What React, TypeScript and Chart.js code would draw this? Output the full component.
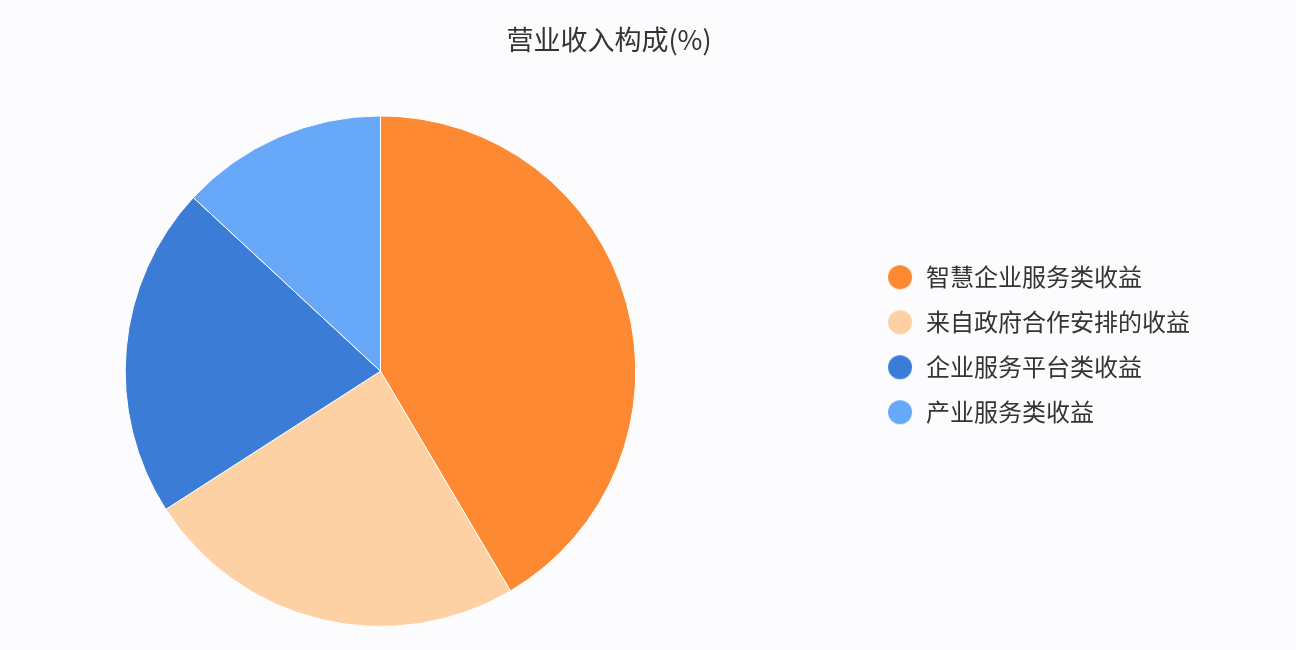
import { useEffect, useRef } from 'react';
import { Chart, registerables } from 'chart.js';

Chart.register(...registerables);

const labels = ['智慧企业服务类收益', '来自政府合作安排的收益', '企业服务平台类收益', '产业服务类收益'];
const shares = [41.5, 24.4, 21.0, 13.1];
const colors = ['#fd8a32', '#fdd1a4', '#3b7dd6', '#67a9f8'];

const FONT = '"Noto Sans CJK SC", "Noto Sans", sans-serif';
const MARKER_W = 150;

// legend marker: a dot sitting at the right end of a wide transparent strip
function makeMarker(color: string) {
  const c = document.createElement('canvas');
  c.width = MARKER_W;
  c.height = 26;
  const ctx = c.getContext('2d')!;
  ctx.fillStyle = color;
  ctx.beginPath();
  ctx.arc(MARKER_W - 14, 13, 12, 0, Math.PI * 2);
  ctx.fill();
  return c;
}

export default function App() {
  const canvasRef = useRef<HTMLCanvasElement>(null);
  const chartRef = useRef<Chart | null>(null);

  useEffect(() => {
    if (!canvasRef.current) return;
    chartRef.current?.destroy();

    const markers = colors.map(makeMarker);
    const baseLabels = (Chart.overrides as any).doughnut.plugins.legend.labels.generateLabels;

    chartRef.current = new Chart(canvasRef.current, {
      type: 'pie',
      data: {
        labels,
        datasets: [
          {
            data: shares,
            backgroundColor: colors,
            borderColor: '#ffffff',
            borderWidth: 1,
          },
        ],
      },
      options: {
        responsive: true,
        maintainAspectRatio: false,
        animation: false,
        layout: { padding: { left: 18, right: 96, top: 0, bottom: 23 } },
        plugins: {
          title: {
            display: true,
            text: '营业收入构成(%)',
            color: '#333333',
            font: { family: FONT, size: 27, weight: 'normal' },
            padding: { top: 24, bottom: 59 },
          },
          legend: {
            position: 'right',
            title: { display: true, text: '', font: { size: 12 }, padding: 24 },
            labels: {
              usePointStyle: true,
              pointStyleWidth: MARKER_W,
              boxHeight: 24,
              padding: 21,
              color: '#333333',
              textAlign: 'left',
              font: { family: FONT, size: 24 },
              generateLabels: (chart: Chart) =>
                baseLabels(chart).map((item: any, i: number) => ({ ...item, pointStyle: markers[i] })),
            },
          },
          tooltip: { enabled: true },
        },
      },
    });

    return () => chartRef.current?.destroy();
  }, []);

  return (
    <div style={{ position: 'fixed', left: 0, top: 0, width: 1296, height: 650, background: '#fcfcfe' }}>
      <canvas ref={canvasRef} />
    </div>
  );
}
